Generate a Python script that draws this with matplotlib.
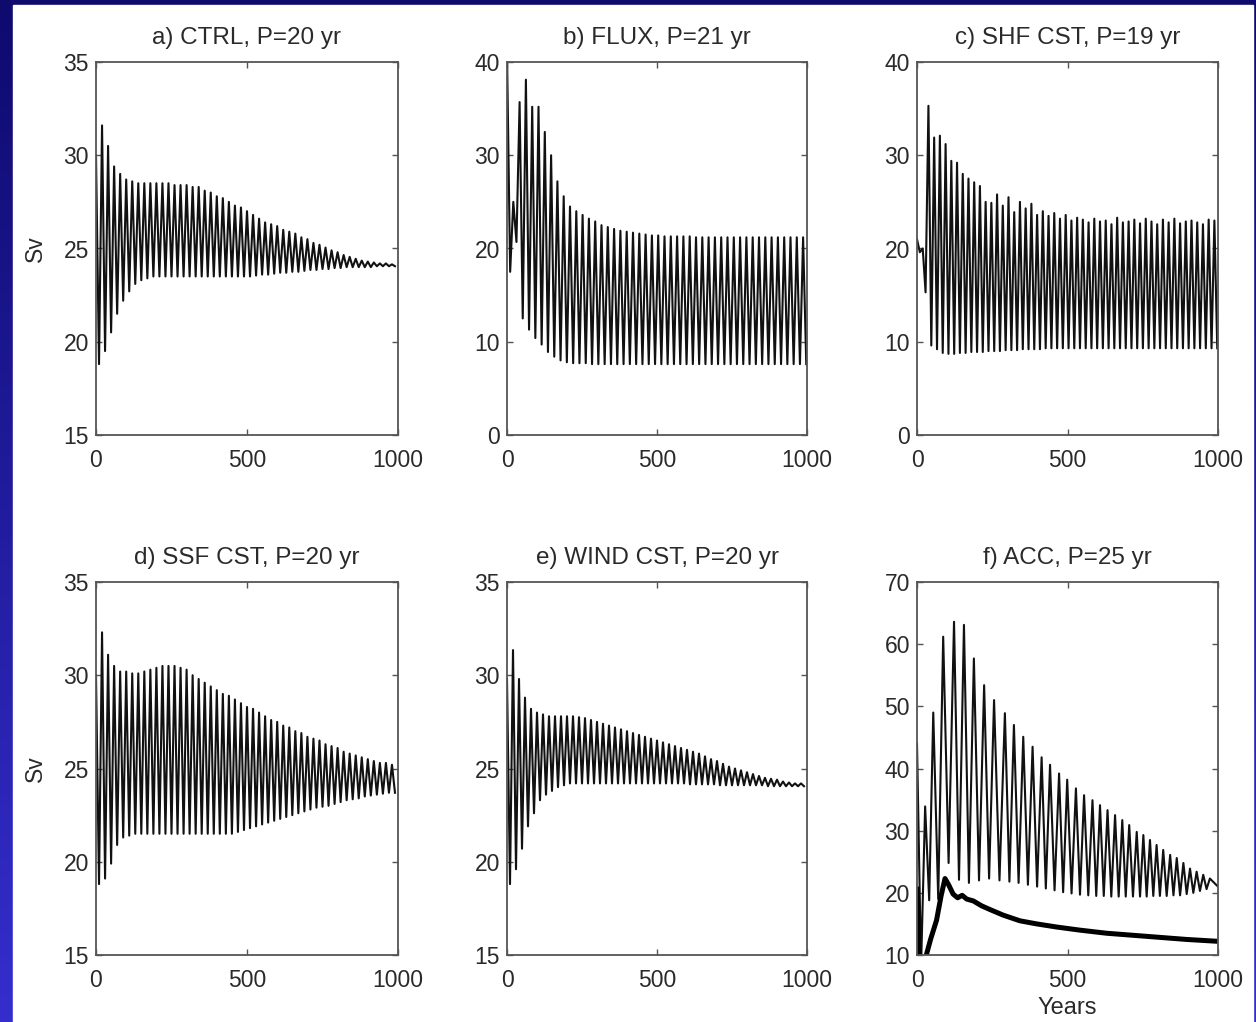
import numpy as np
import matplotlib
matplotlib.use("Agg")
import matplotlib.pyplot as plt
from matplotlib.patches import Rectangle

plt.rcParams["font.family"] = ["Liberation Sans", "DejaVu Sans"]

# ---- данные: максимумы и минимумы каждого цикла ----
titles = ["a) CTRL, P=20 yr", "b) FLUX, P=21 yr", "c) SHF CST, P=19 yr",
          "d) SSF CST, P=20 yr", "e) WIND CST, P=20 yr", "f) ACC, P=25 yr"]
periods = [20, 21, 19, 20, 20]

a_peaks = [30.0, 31.6, 30.5, 29.4, 29.0, 28.7, 28.6, 28.5, 28.5, 28.5,
           28.5, 28.5, 28.5, 28.4, 28.4, 28.4, 28.3, 28.3, 28.1, 28.0,
           27.8, 27.7, 27.5, 27.3, 27.2, 27.0, 26.8, 26.6, 26.4, 26.3,
           26.2, 26.0, 25.9, 25.8, 25.6, 25.5, 25.3, 25.2, 25.05, 24.9,
           24.8, 24.65, 24.55, 24.45, 24.35, 24.3, 24.25, 24.2, 24.2, 24.15]
a_troughs = [18.8, 19.5, 20.5, 21.5, 22.2, 22.7, 23.1, 23.3, 23.4, 23.5,
             23.5, 23.5, 23.5, 23.5, 23.5, 23.5, 23.5, 23.5, 23.5, 23.5,
             23.5, 23.5, 23.5, 23.5, 23.5, 23.5, 23.55, 23.6, 23.6, 23.65,
             23.7, 23.7, 23.75, 23.75, 23.8, 23.85, 23.85, 23.9, 23.9, 23.95,
             23.95, 24.0, 24.0, 24.0, 24.0, 24.0, 24.05, 24.05, 24.05, 24.05]

b_peaks = [41.0, 25.0, 35.7, 38.1, 35.2, 35.2, 32.5, 30.0, 27.2, 25.6,
           24.5, 24.0, 23.6, 23.2, 22.9, 22.5, 22.3, 22.1, 21.9, 21.8,
           21.7, 21.6, 21.5, 21.4, 21.4, 21.3, 21.3, 21.3, 21.3, 21.3,
           21.2, 21.2, 21.2, 21.2, 21.2, 21.2, 21.2, 21.2, 21.2, 21.2,
           21.2, 21.2, 21.2, 21.2, 21.2, 21.2, 21.2, 21.2]
b_troughs = [17.5, 20.7, 12.5, 11.3, 10.4, 9.7, 8.9, 8.4, 8.0, 7.8,
             7.7, 7.7, 7.7, 7.6, 7.6, 7.6, 7.6, 7.6, 7.6, 7.6,
             7.6, 7.6, 7.6, 7.6, 7.6, 7.6, 7.6, 7.6, 7.6, 7.6,
             7.6, 7.6, 7.6, 7.6, 7.6, 7.6, 7.6, 7.6, 7.6, 7.6,
             7.6, 7.6, 7.6, 7.6, 7.6, 7.6, 7.6, 7.6]

c_peaks = [21.0, 20.0, 35.3, 31.9, 32.1, 31.2, 29.4, 29.2, 28.0, 27.5,
           27.1, 26.7, 25.0, 24.9, 25.8, 24.6, 25.5, 23.9, 25.0, 24.3,
           24.8, 23.6, 24.0, 23.5, 23.8, 23.2, 23.6, 23.0, 23.3, 23.1,
           22.8, 23.2, 22.9, 23.0, 22.6, 23.3, 22.8, 22.9, 23.1, 22.7,
           23.2, 22.9, 22.6, 23.1, 22.8, 23.2, 22.7, 22.9, 23.0, 22.8,
           22.6, 23.1, 23.0]
c_troughs = [19.6, 15.3, 9.6, 9.2, 8.8, 8.7, 8.7, 8.8, 8.8, 8.9,
             8.9, 8.9, 9.0, 9.0, 9.0, 9.1, 9.1, 9.1, 9.2, 9.2,
             9.2, 9.2, 9.3, 9.3, 9.3, 9.3, 9.3, 9.3, 9.3, 9.3,
             9.3, 9.3, 9.3, 9.3, 9.3, 9.3, 9.3, 9.3, 9.3, 9.3,
             9.3, 9.3, 9.3, 9.3, 9.3, 9.3, 9.3, 9.3, 9.3, 9.3,
             9.3, 9.3, 9.3]

d_peaks = [30.0, 32.3, 31.1, 30.5, 30.2, 30.2, 30.1, 30.1, 30.2, 30.3,
           30.4, 30.5, 30.5, 30.5, 30.4, 30.3, 30.0, 29.8, 29.6, 29.4,
           29.2, 29.0, 28.9, 28.7, 28.5, 28.3, 28.2, 28.0, 27.8, 27.6,
           27.5, 27.3, 27.2, 27.0, 26.9, 26.7, 26.6, 26.5, 26.3, 26.2,
           26.1, 25.9, 25.8, 25.7, 25.6, 25.5, 25.4, 25.3, 25.3, 25.2]
d_troughs = [18.8, 19.1, 19.9, 20.9, 21.3, 21.4, 21.5, 21.5, 21.5, 21.5,
             21.5, 21.5, 21.5, 21.5, 21.5, 21.5, 21.5, 21.5, 21.5, 21.5,
             21.5, 21.5, 21.5, 21.6, 21.7, 21.8, 21.9, 22.0, 22.1, 22.2,
             22.3, 22.4, 22.5, 22.6, 22.7, 22.8, 22.9, 22.95, 23.0, 23.1,
             23.2, 23.3, 23.35, 23.4, 23.5, 23.55, 23.6, 23.65, 23.7, 23.7]

e_peaks = [29.8, 31.35, 29.8, 28.8, 28.2, 28.0, 27.9, 27.8, 27.8, 27.8,
           27.8, 27.8, 27.75, 27.7, 27.6, 27.5, 27.4, 27.3, 27.2, 27.1,
           27.0, 26.9, 26.8, 26.7, 26.6, 26.5, 26.4, 26.3, 26.2, 26.1,
           26.0, 25.9, 25.8, 25.65, 25.5, 25.4, 25.25, 25.1, 25.0, 24.9,
           24.8, 24.7, 24.6, 24.5, 24.45, 24.4, 24.3, 24.25, 24.2, 24.2]
e_troughs = [18.8, 19.6, 20.7, 21.9, 22.6, 23.3, 23.6, 23.8, 24.0, 24.1,
             24.2, 24.2, 24.2, 24.2, 24.2, 24.2, 24.2, 24.2, 24.2, 24.2,
             24.2, 24.2, 24.2, 24.2, 24.2, 24.2, 24.2, 24.2, 24.2, 24.2,
             24.15, 24.15, 24.15, 24.15, 24.15, 24.1, 24.1, 24.1, 24.1, 24.1,
             24.1, 24.1, 24.1, 24.05, 24.05, 24.05, 24.05, 24.05, 24.05, 24.05]

# f) ACC: период меняется, поэтому времена максимумов заданы явно
f_peak_t = [0, 27, 54, 87, 123, 156, 189, 223, 256, 292,
            322, 353, 384, 414, 442, 472, 499, 528, 555, 583,
            608, 633, 658, 682, 705, 730, 752, 774, 796, 818,
            841, 863, 885, 907, 929, 951, 973]
f_peak_v = [44.0, 33.9, 49.0, 61.2, 63.6, 63.1, 57.7, 53.4, 51.0, 48.9,
            47.0, 45.1, 43.5, 41.8, 40.6, 39.2, 38.2, 36.8, 35.7, 34.9,
            34.1, 33.3, 32.5, 31.7, 30.9, 29.8, 29.3, 28.5, 27.7, 26.9,
            26.1, 25.6, 24.8, 23.9, 23.4, 22.9, 22.3]
f_trough_v = [8.0, 18.8, 19.0, 24.8, 22.1, 21.6, 22.0, 22.3, 22.0, 21.8,
              21.6, 21.3, 21.0, 20.7, 20.4, 20.1, 19.9, 19.7, 19.6, 19.5,
              19.5, 19.4, 19.4, 19.4, 19.4, 19.4, 19.4, 19.5, 19.5, 19.5,
              19.6, 19.6, 19.8, 20.0, 20.3, 20.6]
f_thin_end = 21.0
f_thick_t = [0, 5, 12, 22, 31, 45, 65, 80, 93, 105,
             120, 135, 150, 165, 187, 215, 243, 287, 342, 398,
             464, 541, 630, 763, 896, 1000]
f_thick_v = [21.0, 12.0, 7.0, 6.5, 10.0, 12.5, 15.6, 19.5, 22.3, 21.3,
             19.8, 19.2, 19.6, 19.0, 18.7, 17.9, 17.3, 16.4, 15.5, 15.0,
             14.5, 14.0, 13.5, 13.0, 12.5, 12.2]

ylims = [(15, 35), (0, 40), (0, 40), (15, 35), (15, 35), (10, 70)]
yticks = [np.arange(15, 36, 5), np.arange(0, 41, 10), np.arange(0, 41, 10),
          np.arange(15, 36, 5), np.arange(15, 36, 5), np.arange(10, 71, 10)]


def zigzag(tp, vp, tt, vt):
    # чередуем максимумы и минимумы в порядке времени
    t = np.empty(len(tp) + len(tt)); v = np.empty_like(t)
    t[0::2] = tp; t[1::2] = tt
    v[0::2] = vp; v[1::2] = vt
    return t, v


W, H = 1256, 1022
fig = plt.figure(figsize=(W / 100, H / 100), dpi=100)

# синий градиентный фон + белая подложка
bg = fig.add_axes([0, 0, 1, 1], zorder=-10)
grad = np.linspace(0, 1, 256)[:, None]
top = np.array([14, 10, 110]) / 255; bot = np.array([52, 46, 205]) / 255
img = (top[None, None, :] * (1 - grad[..., None]) + bot[None, None, :] * grad[..., None])
bg.imshow(np.repeat(img, 2, axis=1), aspect="auto", extent=[0, 1, 0, 1])
bg.add_patch(Rectangle((13 / W, 0), (1253 - 13) / W, (H - 5) / H, color="white"))
bg.set_xlim(0, 1); bg.set_ylim(0, 1); bg.axis("off")

lefts = [96, 507, 917]
rights = [398, 807, 1218]
tops = [62, 582]
bottoms = [435, 955]

series = [(a_peaks, a_troughs), (b_peaks, b_troughs), (c_peaks, c_troughs),
          (d_peaks, d_troughs), (e_peaks, e_troughs)]

txt = "#2a2a2a"
for i in range(6):
    r, c = divmod(i, 3)
    ax = fig.add_axes([lefts[c] / W, (H - bottoms[r]) / H,
                       (rights[c] - lefts[c]) / W, (bottoms[r] - tops[r]) / H])
    if i < 5:
        pk, tr = series[i]
        P = periods[i]
        tp = np.arange(len(pk)) * P
        t, v = zigzag(tp, pk, tp + P / 2, tr)
        ax.plot(t, v, color="#111111", lw=1.5)
    else:
        tp = np.array(f_peak_t, float)
        tt = (tp[:-1] + tp[1:]) / 2
        t, v = zigzag(tp, f_peak_v, np.append(tt, 1000), f_trough_v + [f_thin_end])
        ax.plot(t, v, color="#111111", lw=1.5)
        ax.plot(f_thick_t, f_thick_v, color="black", lw=3.6, solid_capstyle="butt")
        ax.set_xlabel("Years", fontsize=17, color=txt, labelpad=4)

    ax.set_xlim(0, 1000); ax.set_ylim(*ylims[i])
    ax.set_xticks([0, 500, 1000]); ax.set_yticks(yticks[i])
    ax.tick_params(direction="in", top=True, right=True, length=4, width=1,
                   color="#555555", labelsize=16.5, labelcolor=txt)
    ax.tick_params(axis="x", pad=10)
    ax.tick_params(axis="y", pad=5)
    for s in ax.spines.values():
        s.set_color("#555555"); s.set_linewidth(1.3)
    ax.set_title(titles[i], fontsize=17.5, color=txt, pad=13)
    if c == 0:
        ax.set_ylabel("Sv", fontsize=16.5, color=txt, labelpad=12)

fig.savefig("out.png", dpi=100)
